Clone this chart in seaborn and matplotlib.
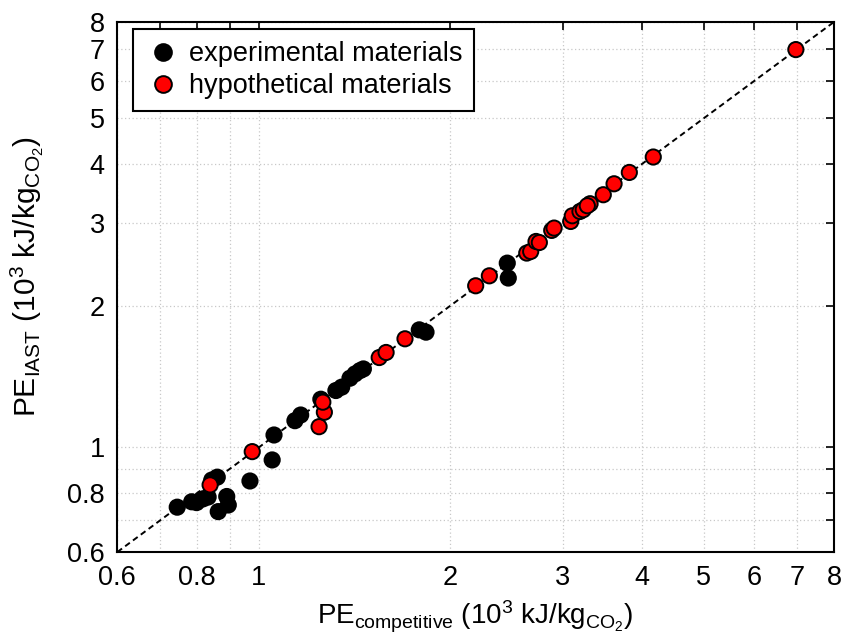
import numpy as np
import pandas as pd
import matplotlib
matplotlib.use("Agg")
import matplotlib.pyplot as plt
import seaborn as sns

# ─────────────────────────────────────────────
# data (10^3 kJ/kg CO2)
# ─────────────────────────────────────────────
exp_competitive = [0.745, 0.785, 0.799, 0.818, 0.833, 0.844, 0.861, 0.864, 0.891, 0.896,
                   0.969, 1.050, 1.057, 1.140, 1.164, 1.252, 1.322, 1.350, 1.391, 1.417,
                   1.442, 1.460, 1.787, 1.831, 2.456, 2.465]
exp_iast = [0.747, 0.767, 0.764, 0.778, 0.785, 0.853, 0.865, 0.731, 0.787, 0.755,
            0.849, 0.941, 1.063, 1.140, 1.172, 1.266, 1.321, 1.343, 1.403, 1.433,
            1.456, 1.468, 1.777, 1.757, 2.462, 2.289]

hyp_competitive = [0.839, 0.977, 1.244, 1.268, 1.261, 1.546, 1.585, 1.697, 2.191, 2.302,
                   2.635, 2.673, 2.725, 2.758, 2.884, 2.909, 3.089, 3.107, 3.194, 3.232,
                   3.313, 3.280, 3.475, 3.613, 3.818, 4.163, 6.97]
hyp_iast = [0.833, 0.980, 1.107, 1.188, 1.248, 1.552, 1.591, 1.701, 2.204, 2.314,
            2.586, 2.606, 2.737, 2.723, 2.889, 2.922, 3.018, 3.103, 3.169, 3.196,
            3.291, 3.259, 3.439, 3.628, 3.835, 4.135, 6.99]

groups = ["experimental materials", "hypothetical materials"]
tick_values = [0.6, 0.7, 0.8, 0.9, 1, 2, 3, 4, 5, 6, 7, 8]
tick_labels = ["0.6", "", "0.8", "", "1", "2", "3", "4", "5", "6", "7", "8"]
lims = [0.6, 8]

df = pd.DataFrame({
    "competitive": exp_competitive + hyp_competitive,
    "iast": exp_iast + hyp_iast,
    "group": [groups[0]] * len(exp_competitive) + [groups[1]] * len(hyp_competitive),
})

# ─────────────────────────────────────────────
# style
# ─────────────────────────────────────────────
sns.set_style("white")
plt.rcParams["font.family"] = ["Liberation Sans", "DejaVu Sans"]
plt.rcParams["mathtext.fontset"] = "custom"
plt.rcParams["mathtext.rm"] = "Liberation Sans"
plt.rcParams["mathtext.it"] = "Liberation Sans:italic"
plt.rcParams["mathtext.bf"] = "Liberation Sans:bold"
for key in ["text.color", "axes.labelcolor", "xtick.color", "ytick.color"]:
    plt.rcParams[key] = "black"

fig = plt.figure(figsize=(8.46, 6.37), dpi=100)
ax = fig.add_axes([0.1387, 0.1334, 0.8471, 0.8321])

ax.plot(lims, lims, color="black", linestyle=(0, (3, 2)), linewidth=1.4, zorder=1)

sns.scatterplot(data=df, x="competitive", y="iast", hue="group",
                palette={groups[0]: "black", groups[1]: "red"},
                s=120, edgecolor="black", linewidth=1.4, ax=ax, zorder=3)

ax.set_xscale("log")
ax.set_yscale("log")
ax.set_xlim(lims)
ax.set_ylim(lims)
ax.minorticks_off()
ax.set_xticks(tick_values)
ax.set_xticklabels(tick_labels)
ax.set_yticks(tick_values)
ax.set_yticklabels(tick_labels)
ax.tick_params(which="major", direction="in", length=6, width=1.2,
               top=True, right=True, labelsize=19.5, pad=9)

ax.grid(True, color="#c8c8c8", linestyle=(0, (1, 2)), linewidth=0.9)
for sp in ax.spines.values():
    sp.set_linewidth(1.5)
    sp.set_color("black")

ax.set_xlabel(r"PE$_{\mathrm{competitive}}$ (10$^{3}$ kJ/kg$_{\mathrm{CO_2}}$)",
              fontsize=20, labelpad=6)
ax.set_ylabel(r"PE$_{\mathrm{IAST}}$ (10$^{3}$ kJ/kg$_{\mathrm{CO_2}}$)",
              fontsize=21.5)
ax.yaxis.set_label_coords(-0.1, 0.52)

leg = ax.legend(loc="upper left", bbox_to_anchor=(0.022, 0.987), fontsize=19.5,
                frameon=True, fancybox=False, framealpha=1, edgecolor="black",
                handletextpad=0.3, borderpad=0.45, labelspacing=0.22,
                handlelength=1.3, title=None, borderaxespad=0.0,
                markerscale=1.1)
leg.get_frame().set_linewidth(1.5)

fig.savefig("out.png", dpi=100)
